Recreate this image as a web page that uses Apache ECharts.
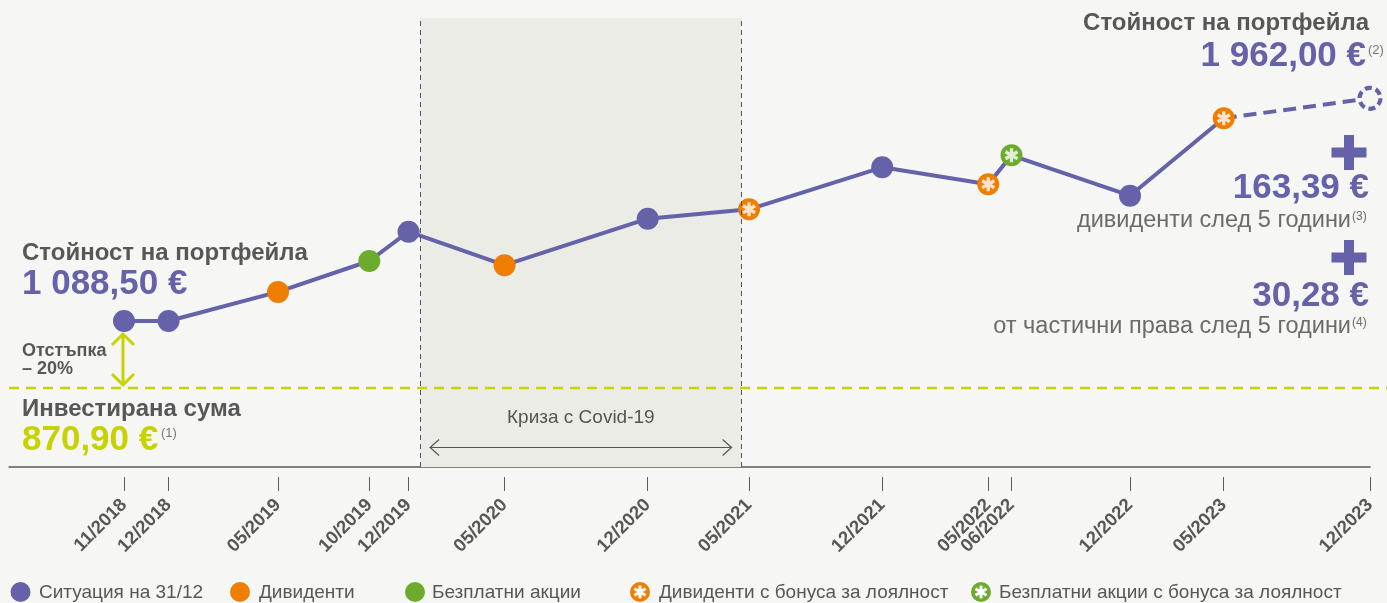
<!DOCTYPE html>
<html><head><meta charset="utf-8">
<script src="https://cdn.jsdelivr.net/npm/echarts@6/dist/echarts.min.js"></script>
<style>html,body{margin:0;padding:0;background:#F6F6F4;}#chart{width:1387px;height:603px;}</style>
</head><body><div id="chart"></div>
<script>
// ---- data ----
const tickLabels = ['11/2018','12/2018','05/2019','10/2019','12/2019','05/2020','12/2020','05/2021','12/2021','05/2022','06/2022','12/2022','05/2023','12/2023'];
// timeline position (months after 11/2018, as placed on the original axis)
const timelinePos = [0, 2.18, 7.54, 12.01, 13.93, 18.63, 25.64, 30.6, 37.12, 42.31, 43.45, 49.25, 53.84, 61];
const portfolioValues = [1088.5, 1088.5, 1183, 1283.5, 1378.7, 1269.9, 1421, 1451.5, 1588, 1532.8, 1627, 1495.7, 1747.3, 1812.3];
const eventTypes = ['situation','situation','dividend','freeShares','situation','dividend','situation','loyaltyDividend','situation','loyaltyDividend','loyaltyFreeShares','situation','loyaltyDividend','projection'];
const investedAmount = 870.9;
const covidRange = [14.52, 30.21];
const legendNames = ['Ситуация на 31/12','Дивиденти','Безплатни акции','Дивиденти с бонуса за лоялност','Безплатни акции с бонуса за лоялност'];
const covidLabel = 'Криза с Covid-19';

// ---- styles ----
const FONT = '"Liberation Sans", Arial, Helvetica, sans-serif';
const C = {purple:'#6562A9', orange:'#EF7D00', green:'#6CAB2B', lime:'#C6D300', grey:'#575757', sub:'#6b6b6b', bg:'#F6F6F4', band:'#ECECE7', axis:'#5a5a5a'};
const axisMin = -5.63, axisMax = 61, yMin = 614, yMax = 2073.25;

const ARM_W = 0.95, ARM_L = 4;
function asteriskPath(w, L) {
  let d = '';
  for (const deg of [0, 60, 120]) {
    const a = deg * Math.PI / 180, c = Math.cos(a), s = Math.sin(a);
    const p = [[-w,-L],[w,-L],[w,L],[-w,L]].map(([x,y]) => [x*c - y*s, x*s + y*c]);
    d += 'M' + p.map(q => q[0].toFixed(3) + ' ' + q[1].toFixed(3)).join(' L') + ' Z ';
  }
  return d;
}
const AST = asteriskPath(ARM_W, ARM_L);

const pts = timelinePos.map((x, i) => [x, portfolioValues[i]]);
const byType = t => pts.filter((p, i) => eventTypes[i] === t);
const solidPts = pts.filter((p, i) => eventTypes[i] !== 'projection');
const projIdx = eventTypes.indexOf('projection');
const dashedPts = [pts[projIdx - 1], pts[projIdx]];
const loyaltyPts = pts.filter((p, i) => eventTypes[i].indexOf('loyalty') === 0);

const chart = echarts.init(document.getElementById('chart'), null, {renderer: 'canvas'});

const dotSeries = (name, type, color, extra) => Object.assign({
  name, type: 'scatter', data: byType(type), symbol: 'circle', symbolSize: 22,
  itemStyle: {color, opacity: 1}, z: 4, silent: true
}, extra || {});

chart.setOption({
  backgroundColor: C.bg,
  animation: false,
  grid: {left: 9, right: 17, top: 18, bottom: 136},
  xAxis: [
    {type: 'value', min: axisMin, max: axisMax, position: 'bottom',
     axisLine: {show: true, lineStyle: {color: C.axis, width: 1.5}},
     axisTick: {show: false}, axisLabel: {show: false}, splitLine: {show: false}},
    {type: 'value', min: axisMin, max: axisMax, position: 'bottom', offset: 10,
     axisLine: {show: false},
     axisTick: {show: true, customValues: timelinePos, length: 14, lineStyle: {color: C.axis, width: 1}},
     axisLabel: {show: true, customValues: timelinePos, rotate: 45, margin: 25, hideOverlap: false,
       formatter: v => tickLabels[timelinePos.indexOf(v)] || '',
       fontFamily: FONT, fontWeight: 'bold', fontSize: 18.5, color: C.grey},
     splitLine: {show: false}}
  ],
  yAxis: {type: 'value', min: yMin, max: yMax, show: false},
  series: [
    {name: 'covid', type: 'line', data: solidPts, symbol: 'none', lineStyle: {opacity: 0}, z: 1, silent: true,
     markArea: {silent: true, itemStyle: {color: C.band}, label: {show: false},
       data: [[{xAxis: covidRange[0]}, {xAxis: covidRange[1]}]]},
     markLine: {silent: true, symbol: 'none', label: {show: false},
       lineStyle: {color: '#555', type: [5, 4], width: 1},
       data: [{xAxis: covidRange[0]}, {xAxis: covidRange[1]}]}},
    {name: 'portfolio', type: 'line', data: solidPts, symbol: 'none', z: 3, silent: true,
     lineStyle: {color: C.purple, width: 4}},
    {name: 'projection-line', type: 'line', data: dashedPts, symbol: 'none', z: 3, silent: true,
     lineStyle: {color: C.purple, width: 4, type: [13, 7]}},
    dotSeries(legendNames[0], 'situation', C.purple),
    dotSeries(legendNames[1], 'dividend', C.orange),
    dotSeries(legendNames[2], 'freeShares', C.green),
    dotSeries(legendNames[3], 'loyaltyDividend', C.orange),
    dotSeries(legendNames[4], 'loyaltyFreeShares', C.green),
    {name: 'projection', type: 'custom', data: byType('projection'), z: 4, silent: true,
     renderItem: (params, api) => {
       const p = api.coord([api.value(0), api.value(1)]);
       return {type: 'circle', shape: {cx: p[0], cy: p[1], r: 10.5},
         style: {fill: C.bg, stroke: C.purple, lineWidth: 4.2, lineDash: [7, 4]}};
     }},
    {name: 'asterisk', type: 'scatter', data: loyaltyPts, symbol: 'path://' + AST, symbolSize: 14,
     symbolKeepAspect: true, itemStyle: {color: '#fff'}, z: 5, silent: true}
  ]
});

// ---- annotations ----
const toPx = (x, y) => chart.convertToPixel({xAxisIndex: 0, yAxisIndex: 0}, [x, y]);
const yInv = toPx(0, investedAmount)[1];
const pStart = toPx(timelinePos[0], portfolioValues[0]);
const bx0 = toPx(covidRange[0], 0)[0], bx1 = toPx(covidRange[1], 0)[0];

const T = (x, y, text, size, fill, opt) => Object.assign({
  type: 'text', x, y, silent: true, z: 10,
  style: Object.assign({text, fontFamily: FONT, fontSize: size, fill, align: 'left', verticalAlign: 'middle'}, opt || {})
});
const plus = (cx, cy) => [
  {type: 'rect', shape: {x: cx - 17.5, y: cy - 5, width: 35, height: 10}, style: {fill: C.purple}, silent: true, z: 10},
  {type: 'rect', shape: {x: cx - 5, y: cy - 17.5, width: 10, height: 35}, style: {fill: C.purple}, silent: true, z: 10}
];
// asterisk for legend icons, built from three rotated bars
const asterisk = (cx, cy, scale) => [0, 60, 120].map(deg => ({
  type: 'rect', x: cx, y: cy, rotation: deg * Math.PI / 180, silent: true, z: 11,
  shape: {x: -ARM_W * scale, y: -ARM_L * scale, width: 2 * ARM_W * scale, height: 2 * ARM_L * scale},
  style: {fill: '#fff'}
}));
const g = [];
// invested amount dashed line
g.push({type: 'line', shape: {x1: 9, y1: yInv, x2: 1387, y2: yInv}, style: {stroke: C.lime, lineWidth: 2.5, lineDash: [10, 7]}, silent: true, z: 6});
// drawdown double arrow
const ax = pStart[0] - 1, aTop = pStart[1] + 13, aBot = yInv - 3;
g.push({type: 'line', shape: {x1: ax, y1: aTop, x2: ax, y2: aBot}, style: {stroke: C.lime, lineWidth: 3}, silent: true, z: 7});
g.push({type: 'polyline', shape: {points: [[ax - 11, aTop + 11], [ax, aTop], [ax + 11, aTop + 11]]}, style: {stroke: C.lime, lineWidth: 3, fill: null}, silent: true, z: 7});
g.push({type: 'polyline', shape: {points: [[ax - 11, aBot - 11], [ax, aBot], [ax + 11, aBot - 11]]}, style: {stroke: C.lime, lineWidth: 3, fill: null}, silent: true, z: 7});
// covid arrow & label
const ay = 447.5, a0 = bx0 + 9.5, a1 = bx1 - 9.5;
g.push({type: 'line', shape: {x1: a0, y1: ay, x2: a1, y2: ay}, style: {stroke: '#555', lineWidth: 1.2}, silent: true, z: 7});
g.push({type: 'polyline', shape: {points: [[a0 + 9, ay - 8], [a0, ay], [a0 + 9, ay + 8]]}, style: {stroke: '#555', lineWidth: 1.2, fill: null}, silent: true, z: 7});
g.push({type: 'polyline', shape: {points: [[a1 - 9, ay - 8], [a1, ay], [a1 - 9, ay + 8]]}, style: {stroke: '#555', lineWidth: 1.2, fill: null}, silent: true, z: 7});
g.push(T((bx0 + bx1) / 2, 418, covidLabel, 19, '#555', {align: 'center'}));
// top right block
g.push(T(1369, 23, 'Стойност на портфейла', 24, C.grey, {align: 'right', fontWeight: 'bold'}));
g.push(T(1366, 56, '1 962,00 €', 35, C.purple, {align: 'right', fontWeight: 'bold'}));
g.push(T(1368, 50, '(2)', 13, '#777'));
g.push(...plus(1349, 152.5));
g.push(T(1369, 188.5, '163,39 €', 35, C.purple, {align: 'right', fontWeight: 'bold'}));
g.push(T(1351, 221, 'дивиденти след 5 години', 23.5, C.sub, {align: 'right'}));
g.push(T(1352, 217, '(3)', 12, C.sub));
g.push(...plus(1349, 257.5));
g.push(T(1369, 296, '30,28 €', 35, C.purple, {align: 'right', fontWeight: 'bold'}));
g.push(T(1351, 326.5, 'от частични права след 5 години', 23.5, C.sub, {align: 'right'}));
g.push(T(1352, 323, '(4)', 12, C.sub));
// left block
g.push(T(22, 253, 'Стойност на портфейла', 24, C.grey, {fontWeight: 'bold'}));
g.push(T(22, 284, '1 088,50 €', 35, C.purple, {fontWeight: 'bold'}));
g.push(T(22, 351.5, 'Отстъпка', 18, C.grey, {fontWeight: 'bold'}));
g.push(T(22, 369.5, '– 20%', 18, C.grey, {fontWeight: 'bold'}));
g.push(T(22, 409, 'Инвестирана сума', 24, C.grey, {fontWeight: 'bold'}));
g.push(T(22, 440, '870,90 €', 35, C.lime, {fontWeight: 'bold'}));
g.push(T(161, 433, '(1)', 13, '#777'));
// legend
const legendIcons = [
  {color: C.purple, star: false, cx: 20.5, tx: 39},
  {color: C.orange, star: false, cx: 240, tx: 259},
  {color: C.green, star: false, cx: 415, tx: 432},
  {color: C.orange, star: true, cx: 640, tx: 659},
  {color: C.green, star: true, cx: 981, tx: 999}
];
const ly = 592;
legendIcons.forEach((it, i) => {
  g.push({type: 'circle', shape: {cx: it.cx, cy: ly, r: 10}, style: {fill: it.color}, silent: true, z: 10});
  if (it.star) g.push(...asterisk(it.cx, ly, 1.6));
  g.push(T(it.tx, ly + 1, legendNames[i], 19, C.grey));
});
chart.setOption({graphic: g});
</script></body></html>
